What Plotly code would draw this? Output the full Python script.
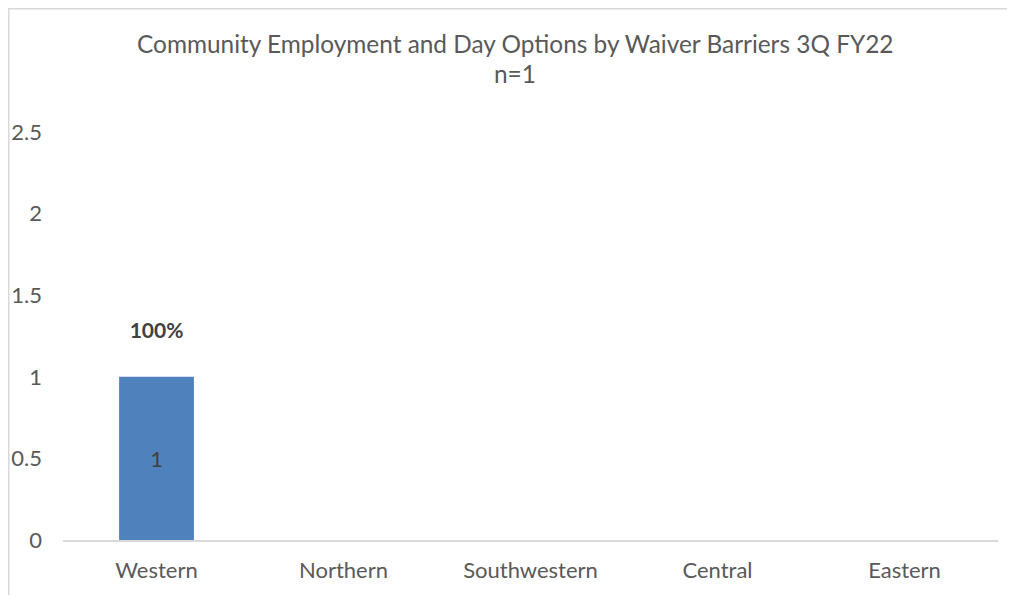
import plotly.graph_objects as go

categories = ["Western", "Northern", "Southwestern", "Central", "Eastern"]
values = [1, 0, 0, 0, 0]
inside_labels = ["1", "", "", "", ""]
pct_labels = ["100%", "", "", "", ""]
pct_label_y = [1.27, None, None, None, None]
title_line1 = "Community Employment and Day Options by Waiver Barriers 3Q FY22"
title_line2 = "n=1"
y_ticks = [0, 0.5, 1, 1.5, 2, 2.5]

# page has an 8px body margin, so the figure is sized/placed to fit inside it
W, H = 999, 587
L, R, T, B = 55, 9, 124, 55
PH = H - T - B
PW = W - L - R

text_color = "#595959"
font_family = "Lato, Open Sans, Liberation Sans, sans-serif"

fig = go.Figure()
fig.add_trace(go.Bar(
    x=categories, y=values,
    marker=dict(color="#4F81BD", line=dict(width=0)),
    text=inside_labels, textposition="inside", insidetextanchor="middle",
    textfont=dict(size=22, color="#404040", family=font_family),
    width=0.4, hoverinfo="x+y",
))
fig.add_trace(go.Scatter(
    x=categories, y=pct_label_y, mode="text", text=pct_labels,
    textfont=dict(size=21, color="#404040", family=font_family),
    texttemplate="<b>%{text}</b>", hoverinfo="skip", showlegend=False,
))


def title_ann(text, center_px):
    return dict(
        text=text, xref="paper", yref="paper", x=(507 - L) / PW,
        y=(H - B - center_px) / PH, xanchor="center", yanchor="middle",
        showarrow=False, font=dict(size=24.4, color=text_color, family=font_family),
    )


fig.update_layout(
    width=W, height=H,
    margin=dict(l=L, r=R, t=T, b=B, autoexpand=False),
    paper_bgcolor="white", plot_bgcolor="white",
    showlegend=False,
    font=dict(family=font_family, color=text_color),
    annotations=[title_ann(title_line1, 35), title_ann(title_line2, 65)],
    xaxis=dict(
        showgrid=False, showline=True, linecolor="#D9D9D9", linewidth=1.5,
        ticks="", tickfont=dict(size=22, color=text_color),
        ticklabelstandoff=10, zeroline=False,
    ),
    yaxis=dict(
        range=[0, 2.5], tickvals=y_ticks, showgrid=False, showline=False,
        zeroline=False, ticks="", tickfont=dict(size=22, color=text_color),
        ticklabelstandoff=20,
    ),
    shapes=[dict(
        type="rect", xref="paper", yref="paper",
        x0=(0.75 - L) / PW, x1=(W + 10 - L) / PW,
        y0=-(B + 10) / PH, y1=(H - 0.75 - B) / PH,
        line=dict(color="#D9D9D9", width=1.5), layer="below",
    )],
)

fig.write_html("out.html")
